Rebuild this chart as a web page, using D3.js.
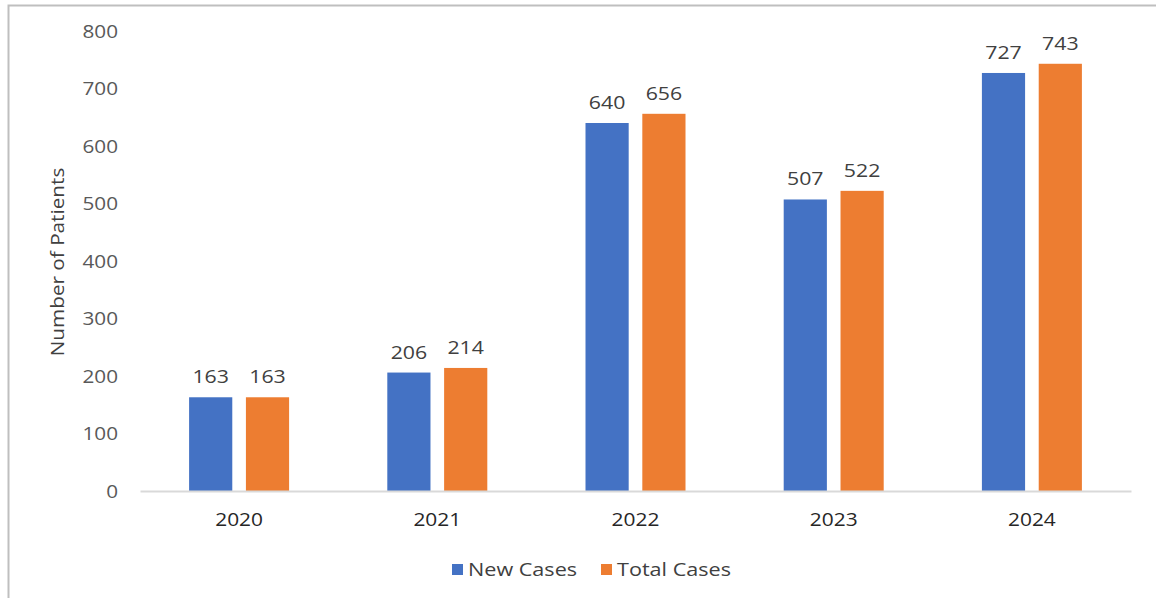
<!DOCTYPE html>
<html><head><meta charset="utf-8">
<script src="https://cdn.jsdelivr.net/npm/d3@7"></script>
<style>body{margin:0;background:#fff}svg{display:block}text{font-family:"Open Sans","Noto Sans",sans-serif}</style>
</head><body><svg id="c" width="1156" height="598"></svg>
<script>
const years = ["2020","2021","2022","2023","2024"];
const newCases = [163,206,640,507,727];
const totalCases = [163,214,656,522,743];
const yTicks = [0,100,200,300,400,500,600,700,800];
const seriesNames = ["New Cases","Total Cases"];
const colors = ["#4472C4","#ED7D31"];

function stretch(sel, f){
  sel.each(function(){
    const L = this.getComputedTextLength();
    this.setAttribute("textLength", L*f);
    this.setAttribute("lengthAdjust","spacingAndGlyphs");
  });
}

const svg = d3.select("#c");
svg.append("path").attr("d","M8.5,598 V5.5 H1156").attr("fill","none").attr("stroke","#bfbfbf").attr("stroke-width",2);

const x0 = d3.scaleBand().domain(years).range([140,1131]);
const x1 = d3.scaleBand().domain(seriesNames).range([0,100]).paddingInner(0.24);
const y = d3.scaleLinear().domain([0,800]).range([491,31]);

const yAxis = d3.axisLeft(y).tickValues(yTicks).tickSize(0).tickPadding(0);
const gy = svg.append("g").attr("transform","translate(118,0)").call(yAxis);
gy.select(".domain").remove();
gy.selectAll("text").attr("fill","#595959").style("font-size","18px").attr("dy","0.35em");
stretch(gy.selectAll("text"),1.15);

const data = years.map((yr,i)=>({yr, vals:[newCases[i], totalCases[i]]}));
const groups = svg.append("g").selectAll("g").data(data).join("g")
  .attr("transform",d=>`translate(${x0(d.yr)+x0.bandwidth()/2-50},0)`);
groups.selectAll("rect").data(d=>d.vals.map((v,j)=>({v,j}))).join("rect")
  .attr("x",d=>x1(seriesNames[d.j])).attr("width",x1.bandwidth())
  .attr("y",d=>y(d.v)).attr("height",d=>y(0)-y(d.v)).attr("fill",d=>colors[d.j]);
const lbl = groups.selectAll("text").data(d=>d.vals.map((v,j)=>({v,j}))).join("text")
  .attr("x",d=>x1(seriesNames[d.j])+x1.bandwidth()/2).attr("y",d=>y(d.v)-14)
  .attr("text-anchor","middle").attr("fill","#404040").style("font-size","19px").text(d=>d.v);
stretch(lbl,1.12);

const xAxis = d3.axisBottom(x0).tickSize(0).tickPadding(22);
const gx = svg.append("g").attr("transform","translate(0,491)").call(xAxis);
gx.select(".domain").attr("stroke","#d9d9d9").attr("stroke-width",2);
gx.selectAll("text").attr("fill","#262626").style("font-size","19px");
stretch(gx.selectAll("text"),1.1);

const yt = svg.append("text").attr("transform","translate(64,262) rotate(-90)").attr("text-anchor","middle")
  .attr("fill","#404040").style("font-size","18px").text("Number of Patients");
stretch(yt,1.15);

const legX = [452,601];
const leg = svg.append("g").selectAll("g").data(seriesNames).join("g")
  .attr("transform",(d,i)=>`translate(${legX[i]},564)`);
leg.append("rect").attr("width",11).attr("height",11).attr("fill",(d,i)=>colors[i]);
const lt = leg.append("text").attr("x",16).attr("y",12).attr("fill","#404040").style("font-size","18px").text(d=>d);
stretch(lt,1.2);
</script></body></html>
